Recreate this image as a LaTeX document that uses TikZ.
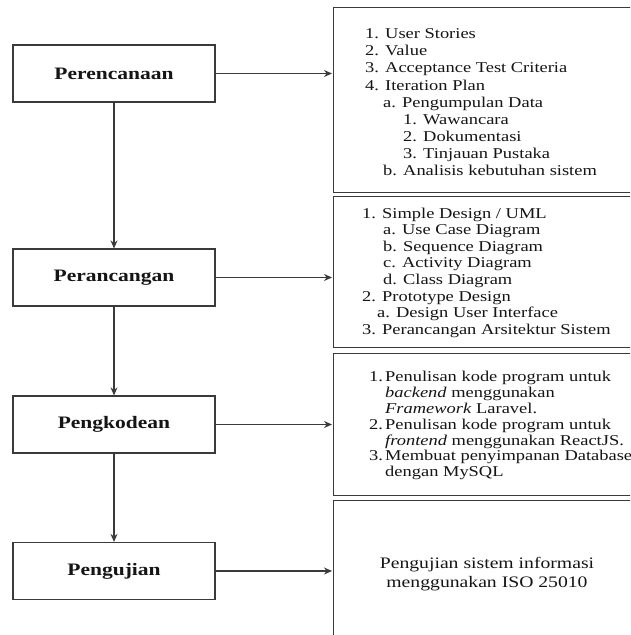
\documentclass[tikz,border=0pt]{standalone}
\usepackage{fontspec}
\setmainfont{Liberation Serif}[FakeStretch=1.23]
\usetikzlibrary{arrows.meta}
\definecolor{linegray}{HTML}{3A3A3A}
\definecolor{inkc}{HTML}{151515}
\begin{document}
\begin{tikzpicture}[x=1pt,y=-1pt,
  phase/.style={draw=linegray, line width=1.2pt, minimum width=202pt, minimum height=57pt, inner sep=0pt, text=inkc, font=\fontsize{17.5}{20}\selectfont\bfseries},
  panel/.style={draw=linegray, line width=1.2pt, anchor=north west, inner sep=0pt, minimum width=400pt},
  txt/.style={anchor=base west, inner sep=0pt, text=inkc, font=\fontsize{15}{17}\selectfont},
  ctxt/.style={anchor=base, inner sep=0pt, text=inkc, font=\fontsize{16}{18}\selectfont},
  arr/.style={draw=linegray, line width=1.2pt, -{Stealth[length=8pt,width=7pt]}}]
\clip (0,0) rectangle (630,635);
\fill[white] (0,0) rectangle (630,635);

% left phases
\node[phase] (p1) at (114,73.5) {Perencanaan};
\node[phase] (p2) at (114,277.5) {Perancangan};
\node[phase] (p3) at (114,424.5) {Pengkodean};
\node[phase] (p4) at (114,571) {Pengujian};

% right panels
\node[panel, minimum height=185pt] (r1) at (333,7) {};
\node[panel, minimum height=151pt] (r2) at (333,196) {};
\node[panel, minimum height=142pt] (r3) at (333,353) {};
\node[panel, minimum height=200pt] (r4) at (333,500) {};

% connectors
\draw[arr] (p1.south) -- (p2.north);
\draw[arr] (p2.south) -- (p3.north);
\draw[arr] (p3.south) -- (p4.north);
\draw[arr, shorten >=1pt] (p1.east) -- (p1.east -| r1.west);
\draw[arr, shorten >=1pt] (p2.east) -- (p2.east -| r2.west);
\draw[arr, shorten >=1pt] (p3.east) -- (p3.east -| r3.west);
\draw[arr, shorten >=1pt] (p4.east) -- (p4.east -| r4.west);

% panel 1 text
\node[txt] (a1) at (365,38.5) {1. User Stories};
\node[txt] (a2) at (365,55.7) {2. Value};
\node[txt] (a3) at (365,72.8) {3. Acceptance Test Criteria};
\node[txt] (a4) at (365,90) {4. Iteration Plan};
\node[txt] (a5) at (383,107.1) {a. Pengumpulan Data};
\node[txt] (a6) at (403,124.3) {1. Wawancara};
\node[txt] (a7) at (403,141.4) {2. Dokumentasi};
\node[txt] (a8) at (403,158.6) {3. Tinjauan Pustaka};
\node[txt] (a9) at (383,175.7) {b. Analisis kebutuhan sistem};

% panel 2 text
\node[txt] (b1) at (362,218) {1. Simple Design / UML};
\node[txt] (b2) at (383,234.6) {a. Use Case Diagram};
\node[txt] (b3) at (383,251.2) {b. Sequence Diagram};
\node[txt] (b4) at (383,267.8) {c. Activity Diagram};
\node[txt] (b5) at (383,284.4) {d. Class Diagram};
\node[txt] (b6) at (362,301) {2. Prototype Design};
\node[txt] (b7) at (377,317.6) {a. Design User Interface};
\node[txt] (b8) at (362,334.2) {3. Perancangan Arsitektur Sistem};

% panel 3 text
\node[txt] (c1) at (369,381.7) {\makebox[16pt][l]{1.}Penulisan kode program untuk};
\node[txt] (c2) at (385,397.5) {\textit{backend} menggunakan};
\node[txt] (c3) at (385,413.4) {\textit{Framework} Laravel.};
\node[txt] (c4) at (369,429.2) {\makebox[16pt][l]{2.}Penulisan kode program untuk};
\node[txt] (c5) at (385,445.1) {\textit{frontend} menggunakan ReactJS.};
\node[txt] (c6) at (369,460.9) {\makebox[16pt][l]{3.}Membuat penyimpanan Database};
\node[txt] (c7) at (385,476.8) {dengan MySQL};

% panel 4 text
\node[ctxt] (d1) at (487,568) {Pengujian sistem informasi};
\node[ctxt] (d2) at (487,587) {menggunakan ISO 25010};
\end{tikzpicture}
\end{document}
